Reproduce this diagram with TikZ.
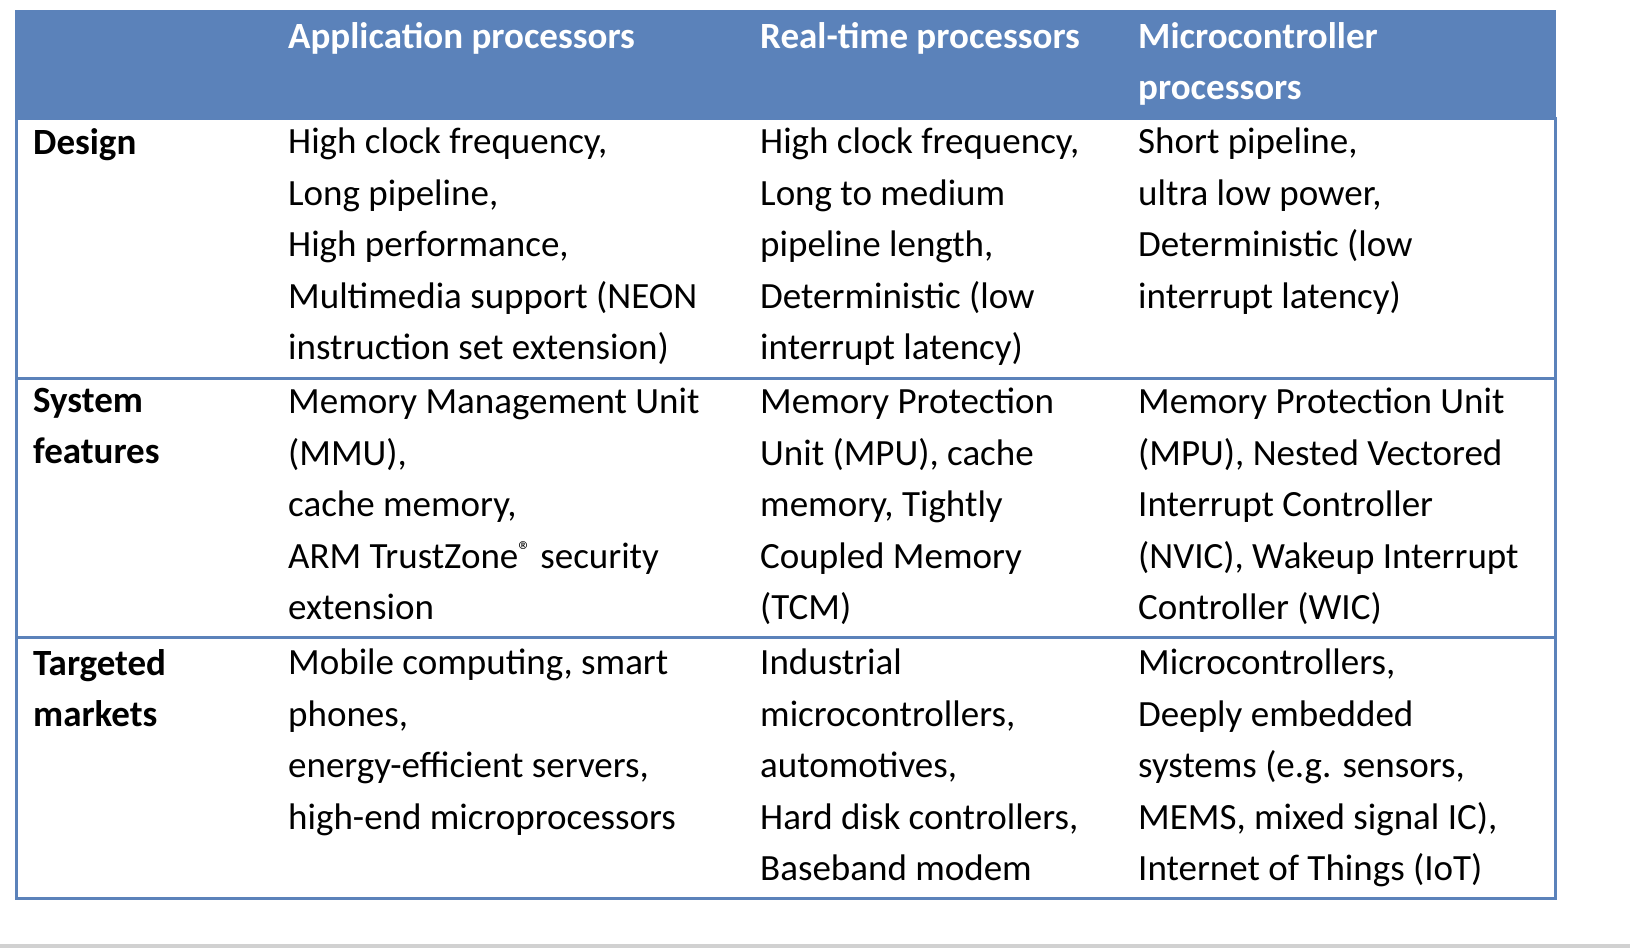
\documentclass[tikz,border=0pt]{standalone}
\usepackage{fontspec}
\setmainfont{Carlito}
\definecolor{hdrblue}{HTML}{5B82BA}
\definecolor{rulegray}{HTML}{8C8C8C}
\tikzset{
  cell/.style={anchor=north west, inner sep=0pt, align=left,
    font=\fontsize{37}{51.5}\selectfont},
  headcell/.style={cell, text=white, font=\fontsize{37}{51.5}\selectfont\bfseries},
  rowhead/.style={cell, font=\fontsize{37}{51.5}\selectfont\bfseries},
  rowrule/.style={draw=hdrblue, line width=3pt}
}
\begin{document}
\begin{tikzpicture}[x=1pt,y=-1pt]
% header band and frame
\fill[hdrblue] (15,10) rectangle (1556,118);
\draw[rowrule] (16,118) rectangle (1555,898);
\draw[rowrule] (16,378) -- (1555,378);
\draw[rowrule] (16,637) -- (1555,637);
\fill[rulegray!40] (0,944) rectangle (1630,948);
% header
\node[headcell] (happ) at (288,22) {Application processors};
\node[headcell] (hrt) at (760,22) {Real-time processors};
\node[headcell] (hmcu) at (1138,22) {Microcontroller\\processors};
% row 1
\node[rowhead] (design) at (33,128) {Design};
\node[cell] (designapp) at (288,128) {High clock frequency,\\Long pipeline,\\High performance,\\Multimedia support (NEON\\instruction set extension)};
\node[cell] (designrt) at (760,128) {High clock frequency,\\Long to medium\\pipeline length,\\Deterministic (low\\interrupt latency)};
\node[cell] (designmcu) at (1138,128) {Short pipeline,\\ultra low power,\\Deterministic (low\\interrupt latency)};
% row 2
\node[rowhead] (sys) at (33,388) {System\\features};
\node[cell] (sysapp) at (288,388) {Memory Management Unit\\(MMU),\\cache memory,\\ARM TrustZone\textsuperscript{®} security\\extension};
\node[cell] (sysrt) at (760,388) {Memory Protection\\Unit (MPU), cache\\memory, Tightly\\Coupled Memory\\(TCM)};
\node[cell] (sysmcu) at (1138,388) {Memory Protection Unit\\(MPU), Nested Vectored\\Interrupt Controller\\(NVIC), Wakeup Interrupt\\Controller (WIC)};
% row 3
\node[rowhead] (mkt) at (33,649) {Targeted\\markets};
\node[cell] (mktapp) at (288,649) {Mobile computing, smart\\phones,\\energy-efficient servers,\\high-end microprocessors};
\node[cell] (mktrt) at (760,649) {Industrial\\microcontrollers,\\automotives,\\Hard disk controllers,\\Baseband modem};
\node[cell] (mktmcu) at (1138,649) {Microcontrollers,\\Deeply embedded\\systems (e.g. sensors,\\MEMS, mixed signal IC),\\Internet of Things (IoT)};
\pgfresetboundingbox
\useasboundingbox (0,0) rectangle (1630,948);
\end{tikzpicture}
\end{document}
